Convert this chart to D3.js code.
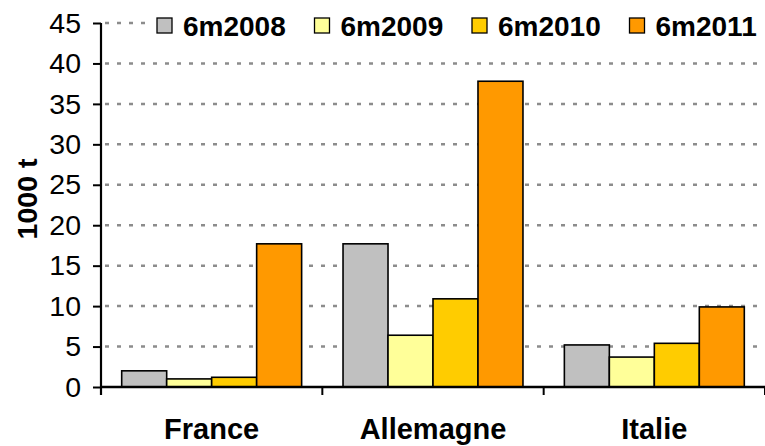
<!DOCTYPE html>
<html>
<head>
<meta charset="utf-8">
<script src="https://cdn.jsdelivr.net/npm/d3@7"></script>
<style>
  body { margin: 0; background: #fff; }
  svg { display: block; font-family: "Liberation Sans", Arial, sans-serif; }
</style>
</head>
<body>
<svg id="chart"></svg>
<script>
// data
var countries = ["France", "Allemagne", "Italie"];
var periods = ["6m2008", "6m2009", "6m2010", "6m2011"];
var v2008 = [2.0, 17.7, 5.2];
var v2009 = [1.0, 6.4, 3.7];
var v2010 = [1.2, 10.9, 5.4];
var v2011 = [17.7, 37.8, 9.9];
var yTicks = [0, 5, 10, 15, 20, 25, 30, 35, 40, 45];
var colors = ["#c0c0c0", "#ffff99", "#ffcc00", "#ff9900"];

var width = 765, height = 446;
var marginLeft = 101, marginRight = 0, marginTop = 23, marginBottom = 59;

var series = [v2008, v2009, v2010, v2011];
var rows = countries.map((c, i) => ({country: c, values: series.map((s, k) => ({key: periods[k], value: s[i]}))}));

var svg = d3.select("#chart").attr("width", width).attr("height", height);

var x0 = d3.scaleBand().domain(countries).range([marginLeft, width - marginRight]).paddingInner(0.187).paddingOuter(0.0935);
var x1 = d3.scaleBand().domain(periods).range([0, x0.bandwidth()]);
var y = d3.scaleLinear().domain([0, 45]).range([height - marginBottom, marginTop]);
var color = d3.scaleOrdinal(periods, colors);

// grid
svg.append("g")
  .selectAll("line")
  .data(yTicks.filter(d => d > 0))
  .join("line")
    .attr("x1", marginLeft).attr("x2", width - marginRight)
    .attr("y1", d => y(d)).attr("y2", d => y(d))
    .attr("stroke", "#8c8c8c")
    .attr("stroke-width", 2.5)
    .attr("stroke-dasharray", "4,8")
    .attr("stroke-dashoffset", -4);

// bars
svg.append("g")
  .selectAll("g")
  .data(rows)
  .join("g")
    .attr("transform", d => `translate(${x0(d.country)},0)`)
  .selectAll("rect")
  .data(d => d.values)
  .join("rect")
    .attr("x", d => x1(d.key))
    .attr("y", d => y(d.value))
    .attr("width", x1.bandwidth())
    .attr("height", d => y(0) - y(d.value))
    .attr("fill", d => color(d.key))
    .attr("stroke", "#000")
    .attr("stroke-width", 1.6);

// y axis
svg.append("g")
  .attr("transform", `translate(${marginLeft},0)`)
  .call(d3.axisLeft(y).tickValues(yTicks).tickSize(8).tickPadding(12).tickSizeOuter(0))
  .call(g => g.select(".domain").attr("stroke-width", 2.2).attr("d", `M0,${y(45)}V${y(0) + 8}`))
  .call(g => g.selectAll(".tick line").attr("stroke-width", 2))
  .call(g => g.selectAll(".tick text").attr("font-size", 28.5).attr("fill", "#000").attr("font-family", "Liberation Sans, Arial, sans-serif"));

// x axis
var bounds = [marginLeft].concat(countries.map(c => x0(c) + x0.bandwidth() + x0.step() * x0.paddingInner() / 2));
var xg = svg.append("g");
xg.append("line")
  .attr("x1", marginLeft).attr("x2", width)
  .attr("y1", y(0)).attr("y2", y(0))
  .attr("stroke", "#000").attr("stroke-width", 2.5);
xg.selectAll(".xt")
  .data(bounds)
  .join("line")
    .attr("x1", d => d).attr("x2", d => d)
    .attr("y1", y(0)).attr("y2", y(0) + 8)
    .attr("stroke", "#000").attr("stroke-width", 2);
xg.selectAll("text")
  .data(countries)
  .join("text")
    .attr("x", d => x0(d) + x0.bandwidth() / 2)
    .attr("y", 439)
    .attr("text-anchor", "middle")
    .attr("font-size", 29)
    .attr("font-weight", "bold")
    .text(d => d);

// y label
svg.append("text")
  .attr("transform", "translate(37,199) rotate(-90)")
  .attr("text-anchor", "middle")
  .attr("font-size", 28.5)
  .attr("font-weight", "bold")
  .text("1000 t");

// legend
svg.append("rect")
  .attr("x", 148).attr("y", 8).attr("width", 617).attr("height", 34)
  .attr("fill", "#fff");
var legend = svg.append("g")
  .selectAll("g")
  .data(periods)
  .join("g")
    .attr("transform", (d, i) => `translate(${157 + i * 157.5},0)`);
legend.append("rect")
  .attr("x", 0).attr("y", 18).attr("width", 15).attr("height", 15)
  .attr("fill", d => color(d))
  .attr("stroke", "#000").attr("stroke-width", 1.3);
legend.append("text")
  .attr("x", 26).attr("y", 35.5)
  .attr("font-size", 28)
  .attr("font-weight", "bold")
  .text(d => d);
</script>
</body>
</html>
